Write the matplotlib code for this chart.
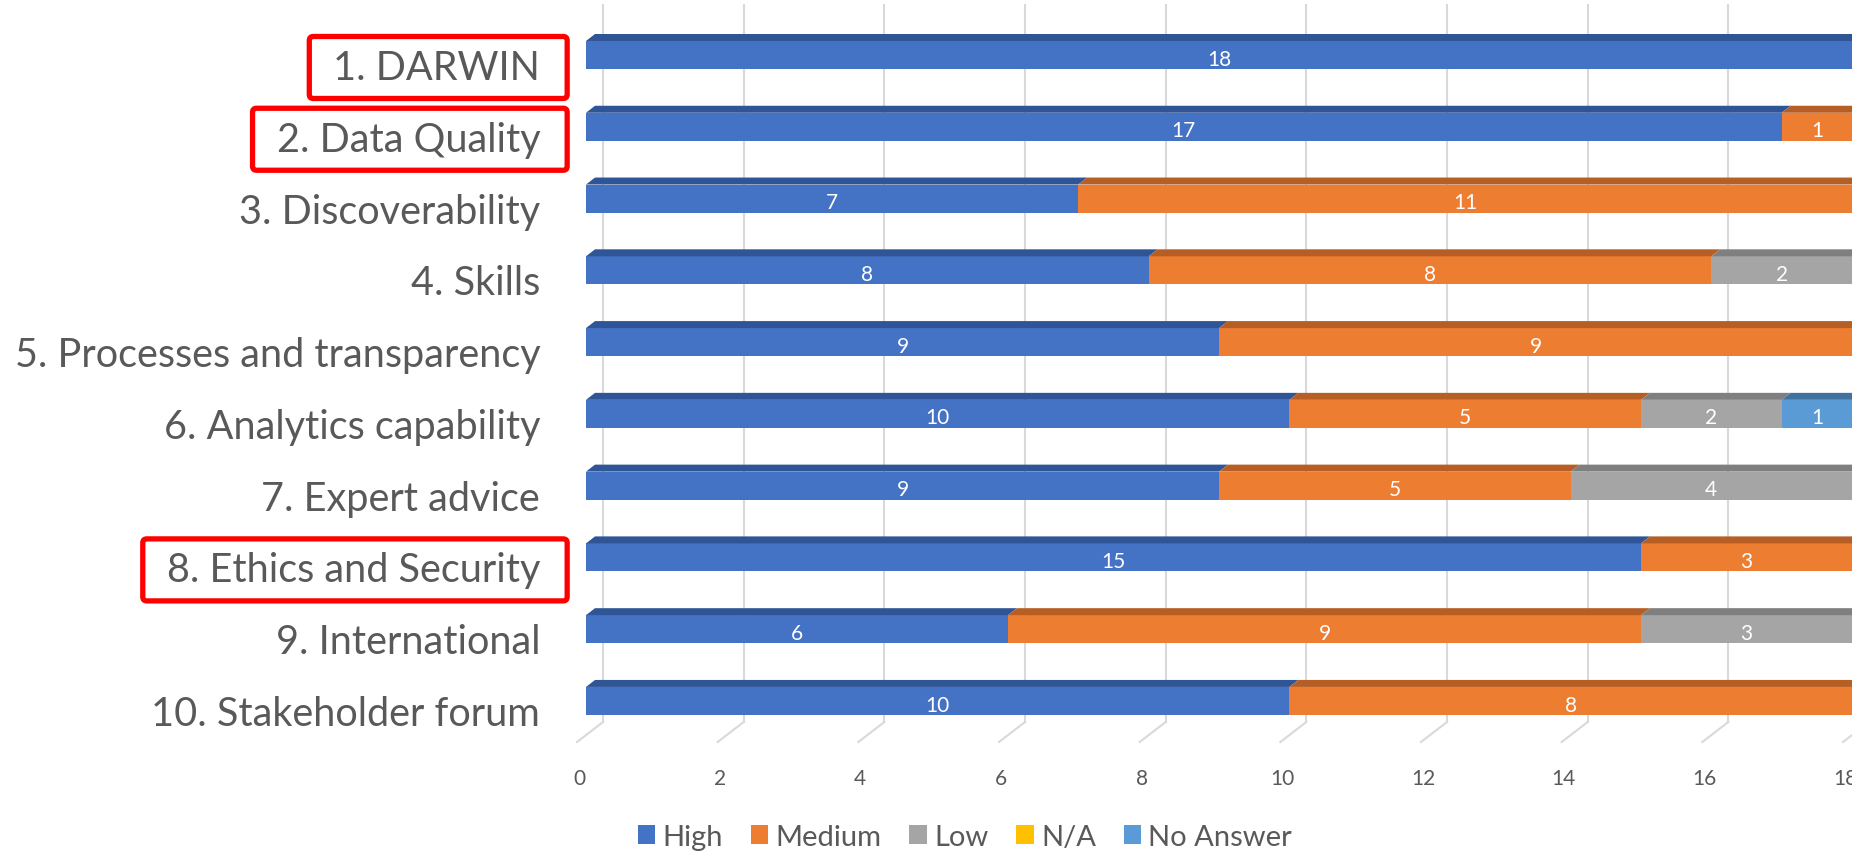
import numpy as np
import matplotlib
matplotlib.use("Agg")
import matplotlib.pyplot as plt
import matplotlib.transforms as mtransforms
from matplotlib.patches import Polygon, FancyBboxPatch

# Dados
categories = ["1. DARWIN", "2. Data Quality", "3. Discoverability", "4. Skills",
              "5. Processes and transparency", "6. Analytics capability",
              "7. Expert advice", "8. Ethics and Security", "9. International",
              "10. Stakeholder forum"]
high = [18, 17, 7, 8, 9, 10, 9, 15, 6, 10]
medium = [0, 1, 11, 8, 9, 5, 5, 3, 9, 8]
low = [0, 0, 0, 2, 0, 2, 4, 0, 3, 0]
na = [0, 0, 0, 0, 0, 0, 0, 0, 0, 0]
no_answer = [0, 0, 0, 0, 0, 1, 0, 0, 0, 0]
highlighted = [0, 1, 7]
xticks = list(range(0, 19, 2))

series = [("High", high, "#4472C4", "#2F5597"),
          ("Medium", medium, "#ED7D31", "#B65E24"),
          ("Low", low, "#A5A5A5", "#7F7F7F"),
          ("N/A", na, "#FFC000", "#C49300"),
          ("No Answer", no_answer, "#5B9BD5", "#41729F")]

plt.rcParams["font.family"] = ["Lato", "DejaVu Sans"]
TXT = "#595959"

W, H = 1852, 854
fig = plt.figure(figsize=(W / 100, H / 100), dpi=100)
ax_bottom_px = 745
ax = fig.add_axes([586 / W, (H - ax_bottom_px) / H, 1 - 586 / W, ax_bottom_px / H])

ypos = np.arange(len(categories))
bar_h = 0.39
unit_x = 1266 / 18.0          # px por unidade em x
unit_y = 71.8                 # px por unidade em y
dx = 9 / unit_x               # deslocamento da face superior (efeito 3D)
dy = 7 / unit_y

left = np.zeros(len(categories))
handles = []
for name, vals, col, col_top in series:
    vals = np.array(vals, dtype=float)
    bars = ax.barh(ypos, vals, left=left, height=bar_h, color=col, zorder=3, label=name)
    handles.append(bars)
    for i in range(len(categories)):
        if vals[i] <= 0:
            continue
        x0, x1 = left[i], left[i] + vals[i]
        yt = ypos[i] - bar_h / 2
        ax.add_patch(Polygon([(x0, yt), (x1, yt), (x1 + dx, yt - dy), (x0 + dx, yt - dy)],
                             closed=True, fc=col_top, ec="none", zorder=3))
        ax.text((x0 + x1) / 2, ypos[i] + 0.05, f"{int(vals[i])}", color="white",
                fontsize=15, ha="center", va="center", zorder=4)
    left += vals

ax.set_xlim(0, 18)
ax.set_ylim(9.6, -0.78)
for s in ax.spines.values():
    s.set_visible(False)

# Grade com deslocamento de profundidade
blend = mtransforms.blended_transform_factory(ax.transData, ax.transAxes)
g_top = (ax_bottom_px - 6) / ax_bottom_px
g_back = (ax_bottom_px - 723) / ax_bottom_px
g_front = (ax_bottom_px - 743) / ax_bottom_px
for v in xticks:
    xb = v + 17 / unit_x
    xf = v - 9 / unit_x
    ax.plot([xb, xb], [g_top, g_back], transform=blend, color="#D9D9D9", lw=1.5,
            zorder=1, clip_on=False)
    ax.plot([xb, xf], [g_back, g_front], transform=blend, color="#D9D9D9", lw=1.5,
            zorder=1, clip_on=False)

ax.set_xticks(xticks)
ax.set_xticklabels([str(t) for t in xticks])
ax.tick_params(axis="x", length=0, pad=17, labelsize=15, labelcolor=TXT)
shift = mtransforms.ScaledTranslation(-7 / 100, 0, fig.dpi_scale_trans)
for lab in ax.get_xticklabels():
    lab.set_transform(lab.get_transform() + shift)

ax.set_yticks(ypos)
ax.set_yticklabels(categories)
ax.tick_params(axis="y", length=0, pad=33, labelsize=28.5, labelcolor=TXT)
yshift = mtransforms.ScaledTranslation(0, -9 / 100, fig.dpi_scale_trans)
for lab in ax.get_yticklabels():
    lab.set_transform(lab.get_transform() + yshift)

leg = fig.legend(handles=handles, loc="center", bbox_to_anchor=(965 / W, 1 - 838 / H),
                 ncol=5, frameon=False, fontsize=21, labelcolor=TXT,
                 handlelength=0.6, handleheight=0.6, handletextpad=0.25,
                 columnspacing=0.95)

# Caixas vermelhas nos itens destacados
fig.canvas.draw()
labels = ax.get_yticklabels()
for idx in highlighted:
    bb = labels[idx].get_window_extent()
    yc = (bb.y0 + bb.y1) / 2
    box = FancyBboxPatch((bb.x0 - 24, yc - 31), (bb.x1 + 27) - (bb.x0 - 24), 62,
                         boxstyle="round,pad=0,rounding_size=4", fc="none",
                         ec="#FF0000", lw=3.8, transform=mtransforms.IdentityTransform())
    fig.add_artist(box)

fig.savefig("out.png", dpi=100)
